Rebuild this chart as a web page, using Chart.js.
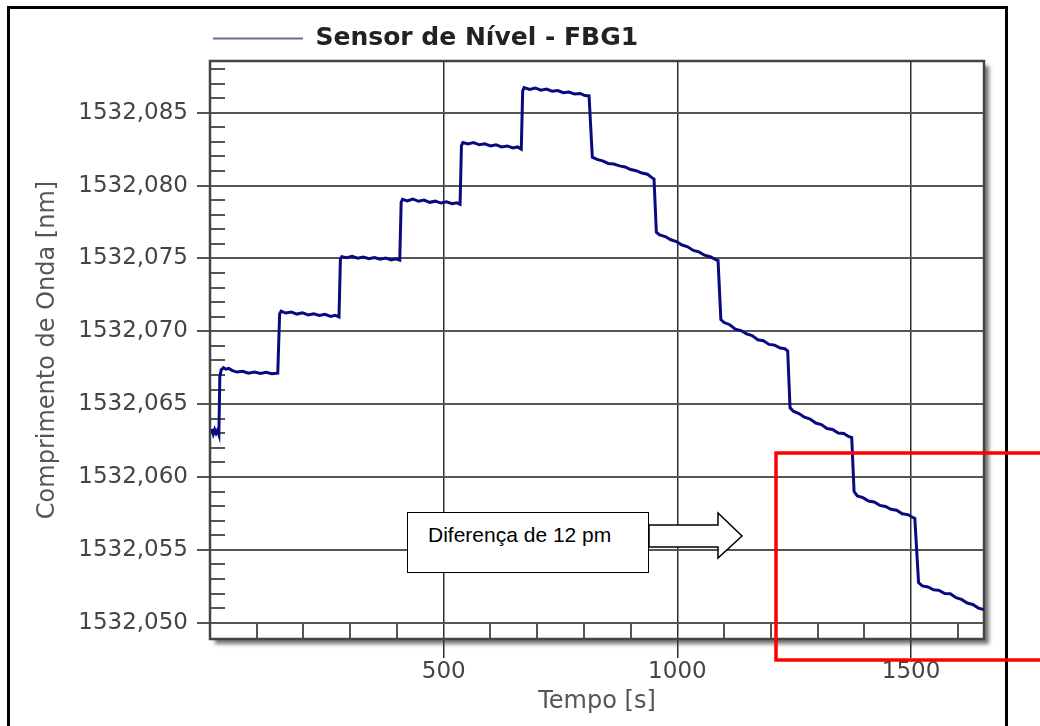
<!DOCTYPE html>
<html>
<head>
<meta charset="utf-8">
<script src="https://cdn.jsdelivr.net/npm/chart.js@4.4.0/dist/chart.umd.min.js"></script>
<style>
  html, body { margin: 0; padding: 0; background: #fff; }
  #wrap { position: relative; width: 1040px; height: 726px; overflow: hidden; }
  #frame { position: absolute; left: 7px; top: 6px; width: 995px; height: 740px; border: 3px solid #000; }
  #chart { position: absolute; left: 0; top: 0; }
  #note {
    position: absolute; left: 407px; top: 512px; width: 242px; height: 61px;
    box-sizing: border-box; border: 1.5px solid #000; background: #fff;
    font: 21px "Liberation Sans", Arial, sans-serif; line-height: 24px;
    padding: 10px 0 0 20px; color: #000;
  }
  #marks { position: absolute; left: 0; top: 0; }
</style>
</head>
<body>
<div id="wrap">
  <div id="frame"></div>
  <canvas id="chart" width="1040" height="726"></canvas>
  <div id="note">Diferença de 12 pm</div>
  <svg id="marks" width="1040" height="726">
    <polygon points="649,525 718,525 718,513 742,536 718,558 718,547 649,547" fill="#fff" stroke="#000" stroke-width="1.5"/>
    <rect x="776" y="453" width="300" height="207" fill="none" stroke="#ff0000" stroke-width="3.5"/>
  </svg>
</div>
<script>
// tempo (s) e comprimento de onda (pm acima de 1532 nm)
const timeS = [
  4, 7, 10, 13, 16, 19,
  21, 24, 29, 34, 40, 48, 58, 70, 82, 95, 108, 120, 132, 145,
  149, 152, 162, 174, 186, 198, 210, 222, 234, 246, 258, 268, 276,
  279, 282, 292, 304, 316, 328, 340, 352, 364, 376, 388, 398, 406,
  409, 412, 422, 434, 446, 458, 470, 482, 494, 506, 518, 528, 535,
  538, 541, 552, 564, 576, 588, 600, 612, 624, 636, 648, 658, 666,
  669, 672, 684, 696, 708, 720, 732, 744, 756, 768, 780, 792, 802, 811,
  818, 828, 840, 852, 864, 876, 888, 900, 912, 924, 936, 944, 950,
  955, 962, 974, 986, 998, 1010, 1022, 1034, 1046, 1058, 1070, 1080, 1087,
  1093, 1100, 1112, 1124, 1136, 1148, 1160, 1172, 1184, 1196, 1208, 1220, 1230, 1236,
  1241, 1248, 1260, 1272, 1284, 1296, 1308, 1320, 1332, 1344, 1356, 1366, 1373,
  1378, 1385, 1397, 1409, 1421, 1433, 1445, 1457, 1469, 1481, 1493, 1502, 1508,
  1516, 1524, 1536, 1548, 1560, 1572, 1584, 1596, 1608, 1620, 1632, 1644, 1656
];
const wavePm = [
  63.3, 62.95, 63.25, 63.0, 63.2, 62.9,
  66.9, 67.35, 67.5, 67.4, 67.45, 67.3, 67.2, 67.25, 67.12, 67.2, 67.1, 67.18, 67.08, 67.12,
  71.2, 71.38, 71.25, 71.32, 71.18, 71.27, 71.12, 71.2, 71.08, 71.16, 71.02, 71.1, 70.98,
  74.95, 75.12, 75.05, 75.15, 75.02, 75.1, 74.98, 75.06, 74.95, 75.02, 74.9, 74.97, 74.88,
  78.85, 79.05, 78.95, 79.08, 78.92, 79.0, 78.85, 78.93, 78.8, 78.88, 78.75, 78.82, 78.72,
  82.75, 82.95, 82.85, 82.95, 82.8, 82.87, 82.72, 82.8, 82.65, 82.72, 82.58, 82.65, 82.5,
  86.5, 86.72, 86.6, 86.7, 86.55, 86.62, 86.48, 86.52, 86.38, 86.42, 86.28, 86.32, 86.18, 86.15,
  81.95, 81.8, 81.7, 81.52, 81.48, 81.35, 81.28, 81.1, 81.02, 80.86, 80.78, 80.58, 80.45,
  76.8, 76.62, 76.5, 76.28, 76.15, 75.92, 75.8, 75.55, 75.45, 75.22, 75.12, 74.95, 74.85,
  70.8, 70.6, 70.45, 70.15, 70.05, 69.82, 69.7, 69.42, 69.35, 69.1, 69.05, 68.85, 68.8, 68.65,
  64.75, 64.52, 64.35, 64.1, 63.98, 63.7, 63.6, 63.33, 63.26, 63.02, 62.98, 62.78, 62.7,
  59.0, 58.7, 58.58, 58.35, 58.28, 58.05, 57.98, 57.78, 57.72, 57.48, 57.42, 57.25, 57.15,
  52.75, 52.52, 52.45, 52.26, 52.22, 52.0, 51.98, 51.72, 51.6, 51.35, 51.25, 51.0, 50.9
];
const baseNm = 1532;
const yMajorTicks = [1532.050, 1532.055, 1532.060, 1532.065, 1532.070, 1532.075, 1532.080, 1532.085];
const xMajorTicks = [500, 1000, 1500];
const xMinorStep = 100;
const seriesLabel = 'Sensor de Nível - FBG1';
const xTitle = 'Tempo [s]';
const yTitle = 'Comprimento de Onda [nm]';

const points = timeS.map((t, i) => ({ x: t, y: baseNm + wavePm[i] / 1000 }));

Chart.defaults.font.family = 'DejaVu Sans';

// fundo com sombra, marcas menores e moldura da área do gráfico
const framePlugin = {
  id: 'frame',
  beforeDraw(chart) {
    const { ctx, chartArea: a } = chart;
    ctx.save();
    ctx.shadowColor = 'rgba(0,0,0,0.55)';
    ctx.shadowBlur = 4;
    ctx.shadowOffsetX = 5;
    ctx.shadowOffsetY = 5;
    ctx.fillStyle = '#fff';
    ctx.fillRect(a.left, a.top, a.right - a.left, a.bottom - a.top);
    ctx.restore();
  },
  beforeDatasetsDraw(chart) {
    const { ctx, chartArea: a, scales: { x, y } } = chart;
    ctx.save();
    ctx.strokeStyle = '#555';
    ctx.lineWidth = 2;
    ctx.beginPath();
    for (let pm = 51; pm <= 88; pm++) {
      if (pm % 5 === 0) continue;
      const py = Math.round(y.getPixelForValue(baseNm + pm / 1000));
      ctx.moveTo(a.left, py);
      ctx.lineTo(a.left + 15, py);
    }
    for (let t = xMinorStep; t < x.max; t += xMinorStep) {
      if (t % 500 === 0) continue;
      const px = Math.round(x.getPixelForValue(t));
      ctx.moveTo(px, a.bottom);
      ctx.lineTo(px, a.bottom - 16);
    }
    ctx.stroke();
    ctx.strokeStyle = '#444';
    ctx.lineWidth = 2.5;
    ctx.strokeRect(a.left, a.top, a.right - a.left, a.bottom - a.top);
    ctx.restore();
  }
};

const ctx = document.getElementById('chart').getContext('2d');
new Chart(ctx, {
  type: 'line',
  data: {
    datasets: [{
      label: seriesLabel,
      data: points,
      borderColor: '#0a0a80',
      backgroundColor: '#6b6b9e',
      borderWidth: 3,
      pointRadius: 0,
      tension: 0
    }]
  },
  options: {
    responsive: false,
    animation: false,
    layout: { padding: { top: 23, right: 56, bottom: 0, left: 0 } },
    plugins: {
      legend: {
        position: 'top',
        align: 'start',
        fullSize: false,
        labels: {
          boxWidth: 90,
          boxHeight: 2,
          padding: 3,
          color: '#222',
          font: { size: 25, weight: 'bold' },
          generateLabels(chart) {
            return Chart.defaults.plugins.legend.labels.generateLabels(chart)
              .map(l => Object.assign(l, { lineWidth: 0, fillStyle: '#6b6b9e' }));
          }
        }
      },
      tooltip: { enabled: false }
    },
    scales: {
      x: {
        type: 'linear',
        min: 0,
        max: 1656,
        afterBuildTicks: s => { s.ticks = xMajorTicks.map(v => ({ value: v })); },
        afterFit: s => { s.height = 87; },
        grid: { color: '#2f2f2f', lineWidth: 1.5, tickLength: 19 },
        border: { display: false },
        ticks: { color: '#444', padding: 0, maxRotation: 0, font: { size: 23 }, callback: v => String(v) },
        title: { display: true, text: xTitle, color: '#555', font: { size: 24 }, padding: { top: 0, bottom: 10 } }
      },
      y: {
        type: 'linear',
        min: 1532.04888,
        max: 1532.08855,
        afterBuildTicks: s => { s.ticks = yMajorTicks.map(v => ({ value: v })); },
        afterFit: s => { s.width = 210; },
        grid: { color: '#555', lineWidth: 2, tickLength: 13 },
        border: { display: false },
        ticks: {
          color: '#444',
          padding: 9,
          font: { size: 23 },
          callback: v => v.toFixed(3).replace('.', ',')
        },
        title: { display: true, text: yTitle, color: '#555', font: { size: 24 }, padding: { top: 33, bottom: 0 } }
      }
    }
  },
  plugins: [framePlugin]
});
</script>
</body>
</html>
